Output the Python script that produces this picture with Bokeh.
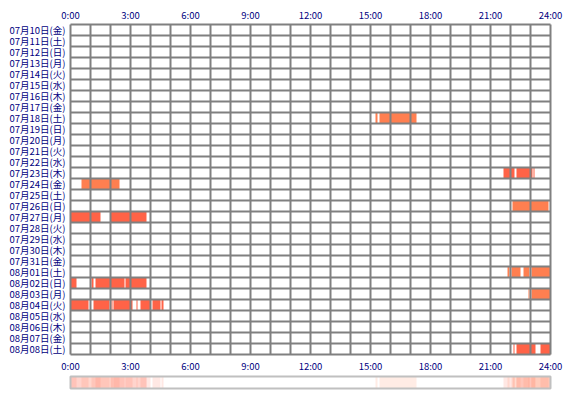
from bokeh.plotting import figure
from bokeh.models import Range1d, ColumnDataSource
from bokeh.core.properties import value
from bokeh.embed import file_html
from bokeh.resources import INLINE

# ---- data ----
day_labels = [
    "07月10日(金)", "07月11日(土)", "07月12日(日)", "07月13日(月)", "07月14日(火)",
    "07月15日(水)", "07月16日(木)", "07月17日(金)", "07月18日(土)", "07月19日(日)",
    "07月20日(月)", "07月21日(火)", "07月22日(水)", "07月23日(木)", "07月24日(金)",
    "07月25日(土)", "07月26日(日)", "07月27日(月)", "07月28日(火)", "07月29日(水)",
    "07月30日(木)", "07月31日(金)", "08月01日(土)", "08月02日(日)", "08月03日(月)",
    "08月04日(火)", "08月05日(水)", "08月06日(木)", "08月07日(金)", "08月08日(土)",
]
hour_ticks = [0, 3, 6, 9, 12, 15, 18, 21, 24]
hour_labels = ["0:00", "3:00", "6:00", "9:00", "12:00", "15:00", "18:00", "21:00", "24:00"]

seg_day = [
    "07月18日(土)", "07月18日(土)",
    "07月23日(木)", "07月23日(木)", "07月23日(木)",
    "07月24日(金)",
    "07月26日(日)",
    "07月27日(月)", "07月27日(月)",
    "08月01日(土)", "08月01日(土)", "08月01日(土)", "08月01日(土)",
    "08月02日(日)", "08月02日(日)", "08月02日(日)", "08月02日(日)",
    "08月03日(月)", "08月03日(月)",
    "08月04日(火)", "08月04日(火)", "08月04日(火)", "08月04日(火)",
    "08月04日(火)", "08月04日(火)", "08月04日(火)", "08月04日(火)",
    "08月08日(土)", "08月08日(土)", "08月08日(土)",
]
seg_start = [
    15.25, 15.45,
    21.65, 22.30, 23.15,
    0.55,
    22.10,
    0.00, 2.00,
    21.85, 22.05, 22.65, 23.05,
    0.00, 1.05, 1.25, 2.75,
    22.90, 23.05,
    0.00, 1.15, 2.05, 2.15, 3.30, 3.50, 4.10, 4.55,
    22.15, 22.30, 23.50,
]
seg_end = [
    15.35, 17.30,
    22.20, 23.10, 23.20,
    2.45,
    23.90,
    1.50, 3.80,
    21.95, 22.50, 22.95, 24.00,
    0.30, 1.15, 2.70, 3.80,
    22.95, 24.00,
    0.90, 1.95, 2.10, 3.10, 3.35, 4.00, 4.50, 4.65,
    22.20, 23.25, 24.00,
]
seg_kind = [
    "a", "a",
    "b", "b", "b",
    "a",
    "a",
    "b", "b",
    "a", "a", "a", "a",
    "b", "b", "b", "b",
    "a", "a",
    "b", "b", "b", "b", "b", "b", "b", "b",
    "b", "b", "b",
]

# ---- styles ----
KIND_COLOR = {"a": "#FF7F50", "b": "#FF6347"}
GRID = "#808080"
NAVY = "#000080"
FONT = value("Noto Sans CJK JP")

n = len(day_labels)
HOURS = 24
# layout in data units: x = hours, y = rows (0 = top of first row, flipped)
LABEL_GAP = 0.25        # hours between day labels and grid
TOP_LABEL_Y = -0.9      # rows above grid
BOTTOM_LABEL_Y = n + 1.0
STRIP_TOP = n + 2.0
STRIP_BOTTOM = n + 3.09

p = figure(width=568, height=396,
           x_range=Range1d(-3.5, HOURS + 0.9),
           y_range=Range1d(n + 3.818, -2.1818),
           x_axis_type=None, y_axis_type=None,
           output_backend="svg", toolbar_location=None,
           min_border=0)
p.outline_line_color = None
p.grid.visible = False

# sleep bars
src = ColumnDataSource(dict(
    top=[day_labels.index(d) for d in seg_day],
    bottom=[day_labels.index(d) + 1 for d in seg_day],
    left=seg_start,
    right=seg_end,
    color=[KIND_COLOR[k] for k in seg_kind],
))
p.quad(left="left", right="right", top="top", bottom="bottom", color="color",
       line_color=None, source=src)

# grid on top of bars
hx = list(range(HOURS + 1))
p.segment(x0=hx, x1=hx, y0=[0] * len(hx), y1=[n] * len(hx),
          line_color=GRID, line_width=2)
ry = list(range(n + 1))
p.segment(x0=[0] * len(ry), x1=[HOURS] * len(ry), y0=ry, y1=ry,
          line_color=GRID, line_width=2)

# day labels
p.text(x=[-LABEL_GAP] * n, y=[i + 0.5 for i in range(n)], text=day_labels,
       text_align="right", text_baseline="middle", text_color=NAVY,
       text_font=FONT, text_font_size="9.5px")

# hour labels top and bottom
for yy in (TOP_LABEL_Y, BOTTOM_LABEL_Y):
    p.text(x=hour_ticks, y=[yy] * len(hour_ticks), text=hour_labels,
           text_align="center", text_baseline="middle", text_color=NAVY,
           text_font=FONT, text_font_size="9.5px")

# summary strip
p.quad(left="left", right="right", top=STRIP_TOP, bottom=STRIP_BOTTOM,
       color="color", fill_alpha=0.15, line_color=None, source=src)
p.quad(left=[0], right=[HOURS], top=[STRIP_TOP], bottom=[STRIP_BOTTOM],
       fill_color=None, line_color="#C0C0C0", line_width=2)

open("out.html", "w").write(file_html(p, INLINE))
